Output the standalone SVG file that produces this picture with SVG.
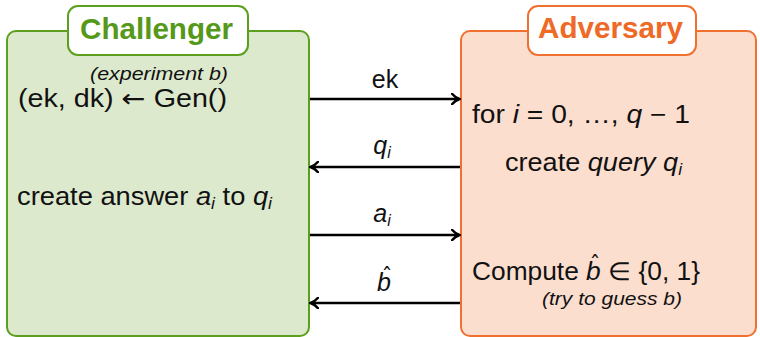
<svg xmlns="http://www.w3.org/2000/svg" width="760" height="337" viewBox="0 0 760 337">
<style>
.t{font-family:"Liberation Sans",Arial,sans-serif;font-size:25px;fill:#111}
.i{font-style:italic}
.s{font-size:16px}
.dv{font-family:"DejaVu Sans",sans-serif}
.hat{font-family:"DejaVu Sans",sans-serif;font-size:22px;fill:#111}
.sm{font-family:"Liberation Sans",Arial,sans-serif;font-size:18px;font-style:italic;fill:#111}
.title{font-family:"Liberation Sans",Arial,sans-serif;font-weight:bold;font-size:30px}
.arr{stroke:#000;stroke-width:2.6;fill:none}
</style>
<defs>
<marker id="ah" viewBox="0 0 10 12" markerWidth="10" markerHeight="12" refX="8" refY="6" orient="auto" markerUnits="userSpaceOnUse">
<path d="M1,0.8 Q4,4.5 8.5,6 Q4,7.5 1,11.2" fill="none" stroke="#000" stroke-width="2.4" stroke-linecap="round"/>
</marker>
</defs>
<g id="challenger">
<rect x="7" y="31" width="302" height="305" rx="9" fill="#dde9cc" stroke="#5c9f1f" stroke-width="2"/>
<rect x="68" y="6" width="180" height="49" rx="10" fill="#fff" stroke="#5c9f1f" stroke-width="2"/>
<text class="title" x="80" y="39" textLength="153" lengthAdjust="spacingAndGlyphs" fill="#56991a">Challenger</text>
<text class="sm" x="90" y="80" textLength="138" lengthAdjust="spacingAndGlyphs">(experiment b)</text>
<text class="t" x="18" y="107" textLength="209" lengthAdjust="spacingAndGlyphs">(ek, dk) <tspan class="dv">←</tspan> Gen()</text>
<text class="t" x="17" y="205" textLength="255" lengthAdjust="spacingAndGlyphs">create answer <tspan class="i">a</tspan><tspan class="i s" dy="4">i</tspan><tspan dy="-4"> to </tspan><tspan class="i">q</tspan><tspan class="i s" dy="4">i</tspan></text>
</g>
<g id="adversary">
<rect x="461" y="31" width="295" height="305" rx="9" fill="#fcdecf" stroke="#f07030" stroke-width="2"/>
<rect x="528" y="6" width="168" height="49" rx="10" fill="#fff" stroke="#f07030" stroke-width="2"/>
<text class="title" x="538" y="38" textLength="145" lengthAdjust="spacingAndGlyphs" fill="#ee6a26">Adversary</text>
<text class="t" x="472" y="123" textLength="218" lengthAdjust="spacingAndGlyphs">for <tspan class="i">i</tspan> = 0, …, <tspan class="i">q</tspan> − 1</text>
<text class="t" x="505" y="171" textLength="177" lengthAdjust="spacingAndGlyphs">create <tspan class="i">query</tspan> <tspan class="i">q</tspan><tspan class="i s" dy="4">i</tspan></text>
<text class="t" x="472" y="280" textLength="228" lengthAdjust="spacingAndGlyphs">Compute <tspan class="i">b</tspan> ∈ {0, 1}</text>
<text class="hat" x="595" y="271" text-anchor="middle">ˆ</text>
<text class="sm" x="542" y="305" textLength="140" lengthAdjust="spacingAndGlyphs">(try to guess b)</text>
</g>
<g id="connectors">
<line class="arr" x1="310" y1="99" x2="459" y2="99" marker-end="url(#ah)"/>
<line class="arr" x1="460" y1="167" x2="311" y2="167" marker-end="url(#ah)"/>
<line class="arr" x1="310" y1="235" x2="459" y2="235" marker-end="url(#ah)"/>
<line class="arr" x1="460" y1="303" x2="311" y2="303" marker-end="url(#ah)"/>
<text class="t" x="385" y="88" text-anchor="middle" font-size="22">ek</text>
<text class="t" x="382" y="154" text-anchor="middle"><tspan class="i">q</tspan><tspan class="i s" dy="4">i</tspan></text>
<text class="t" x="382" y="222" text-anchor="middle"><tspan class="i">a</tspan><tspan class="i s" dy="4">i</tspan></text>
<text class="t i" x="384" y="291" text-anchor="middle">b</text>
<text class="hat" x="387" y="283" text-anchor="middle">ˆ</text>
</g>
</svg>
